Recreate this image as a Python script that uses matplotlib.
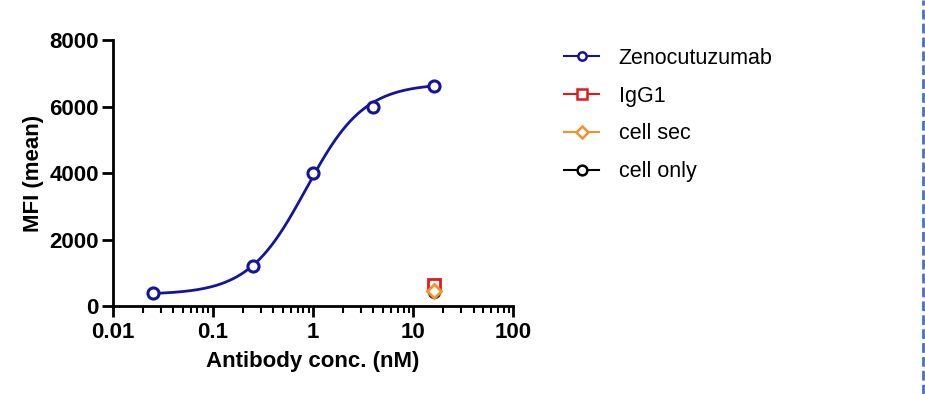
import numpy as np
import matplotlib.pyplot as plt
from matplotlib.lines import Line2D

plt.rcParams['font.family'] = ['Liberation Sans', 'DejaVu Sans']

# data
conc = [0.025, 0.25, 1, 4, 16]
zeno = [400, 1200, 3990, 5980, 6620]
ctrl_conc = [16]
igg1 = [650]
cell_sec = [470]
cell_only = [420]

# 4PL fit parameters (bottom, top, EC50, hill)
fit_bottom, fit_top, fit_ec50, fit_hill = 350, 6700, 0.85, 1.5

labels = ['Zenocutuzumab', 'IgG1', 'cell sec', 'cell only']
colors = ['#1414a0', '#e31a1c', '#f0932b', '#000000']

fig = plt.figure(figsize=(9.25, 3.94), dpi=100)
ax = fig.add_axes([0.122, 0.223, 0.433, 0.675])

xs = np.logspace(np.log10(conc[0]), np.log10(conc[-1]), 300)
ys = fit_bottom + (fit_top - fit_bottom) / (1 + (fit_ec50 / xs) ** fit_hill)
ax.plot(xs, ys, color=colors[0], lw=2)
ax.plot(conc, zeno, 'o', ms=8, mfc='white', mec=colors[0], mew=2.2, zorder=5)

ax.plot(ctrl_conc, igg1, 's', ms=8, mfc='white', mec=colors[1], mew=2, zorder=5)
ax.plot(ctrl_conc, cell_sec, 'D', ms=7, mfc='white', mec=colors[2], mew=2, zorder=6)
ax.plot(ctrl_conc, cell_only, 'o', ms=8, mfc='none', mec=colors[3], mew=1.5, zorder=4)

ax.set_xscale('log')
ax.set_xlim(0.01, 100)
ax.set_ylim(0, 8000)
ax.set_yticks([0, 2000, 4000, 6000, 8000])
ax.set_xticks([0.01, 0.1, 1, 10, 100])
ax.set_xticklabels(['0.01', '0.1', '1', '10', '100'])

for s in ['top', 'right']:
    ax.spines[s].set_visible(False)
for s in ['left', 'bottom']:
    ax.spines[s].set_linewidth(2)
ax.tick_params(axis='both', which='major', width=2, length=8, labelsize=16)
ax.tick_params(axis='x', which='minor', width=1.5, length=5)
ax.tick_params(axis='y', pad=2)
for lab in ax.get_xticklabels() + ax.get_yticklabels():
    lab.set_fontweight('bold')

ax.set_xlabel('Antibody conc. (nM)', fontsize=16, fontweight='bold', labelpad=6)
ax.set_ylabel('MFI (mean)', fontsize=16, fontweight='bold', labelpad=4)

markers = ['o', 's', 'D', 'o']
sizes = [6, 7, 6, 7]
handles = [Line2D([0], [0], color=c, lw=1.5, marker=m, ms=ms, mfc='white', mec=c, mew=1.8)
           for c, m, ms in zip(colors, markers, sizes)]
fig.legend(handles, labels, loc='upper left', bbox_to_anchor=(0.589, 0.928),
           frameon=False, fontsize=15.5, handlelength=1.63, labelspacing=0.78,
           handletextpad=0.9)

fig.add_artist(Line2D([0.9975, 0.9975], [0, 1], transform=fig.transFigure,
                      color='#4a72b8', lw=2, ls=(0, (3.5, 1.5))))

fig.savefig('out.png', dpi=100)
